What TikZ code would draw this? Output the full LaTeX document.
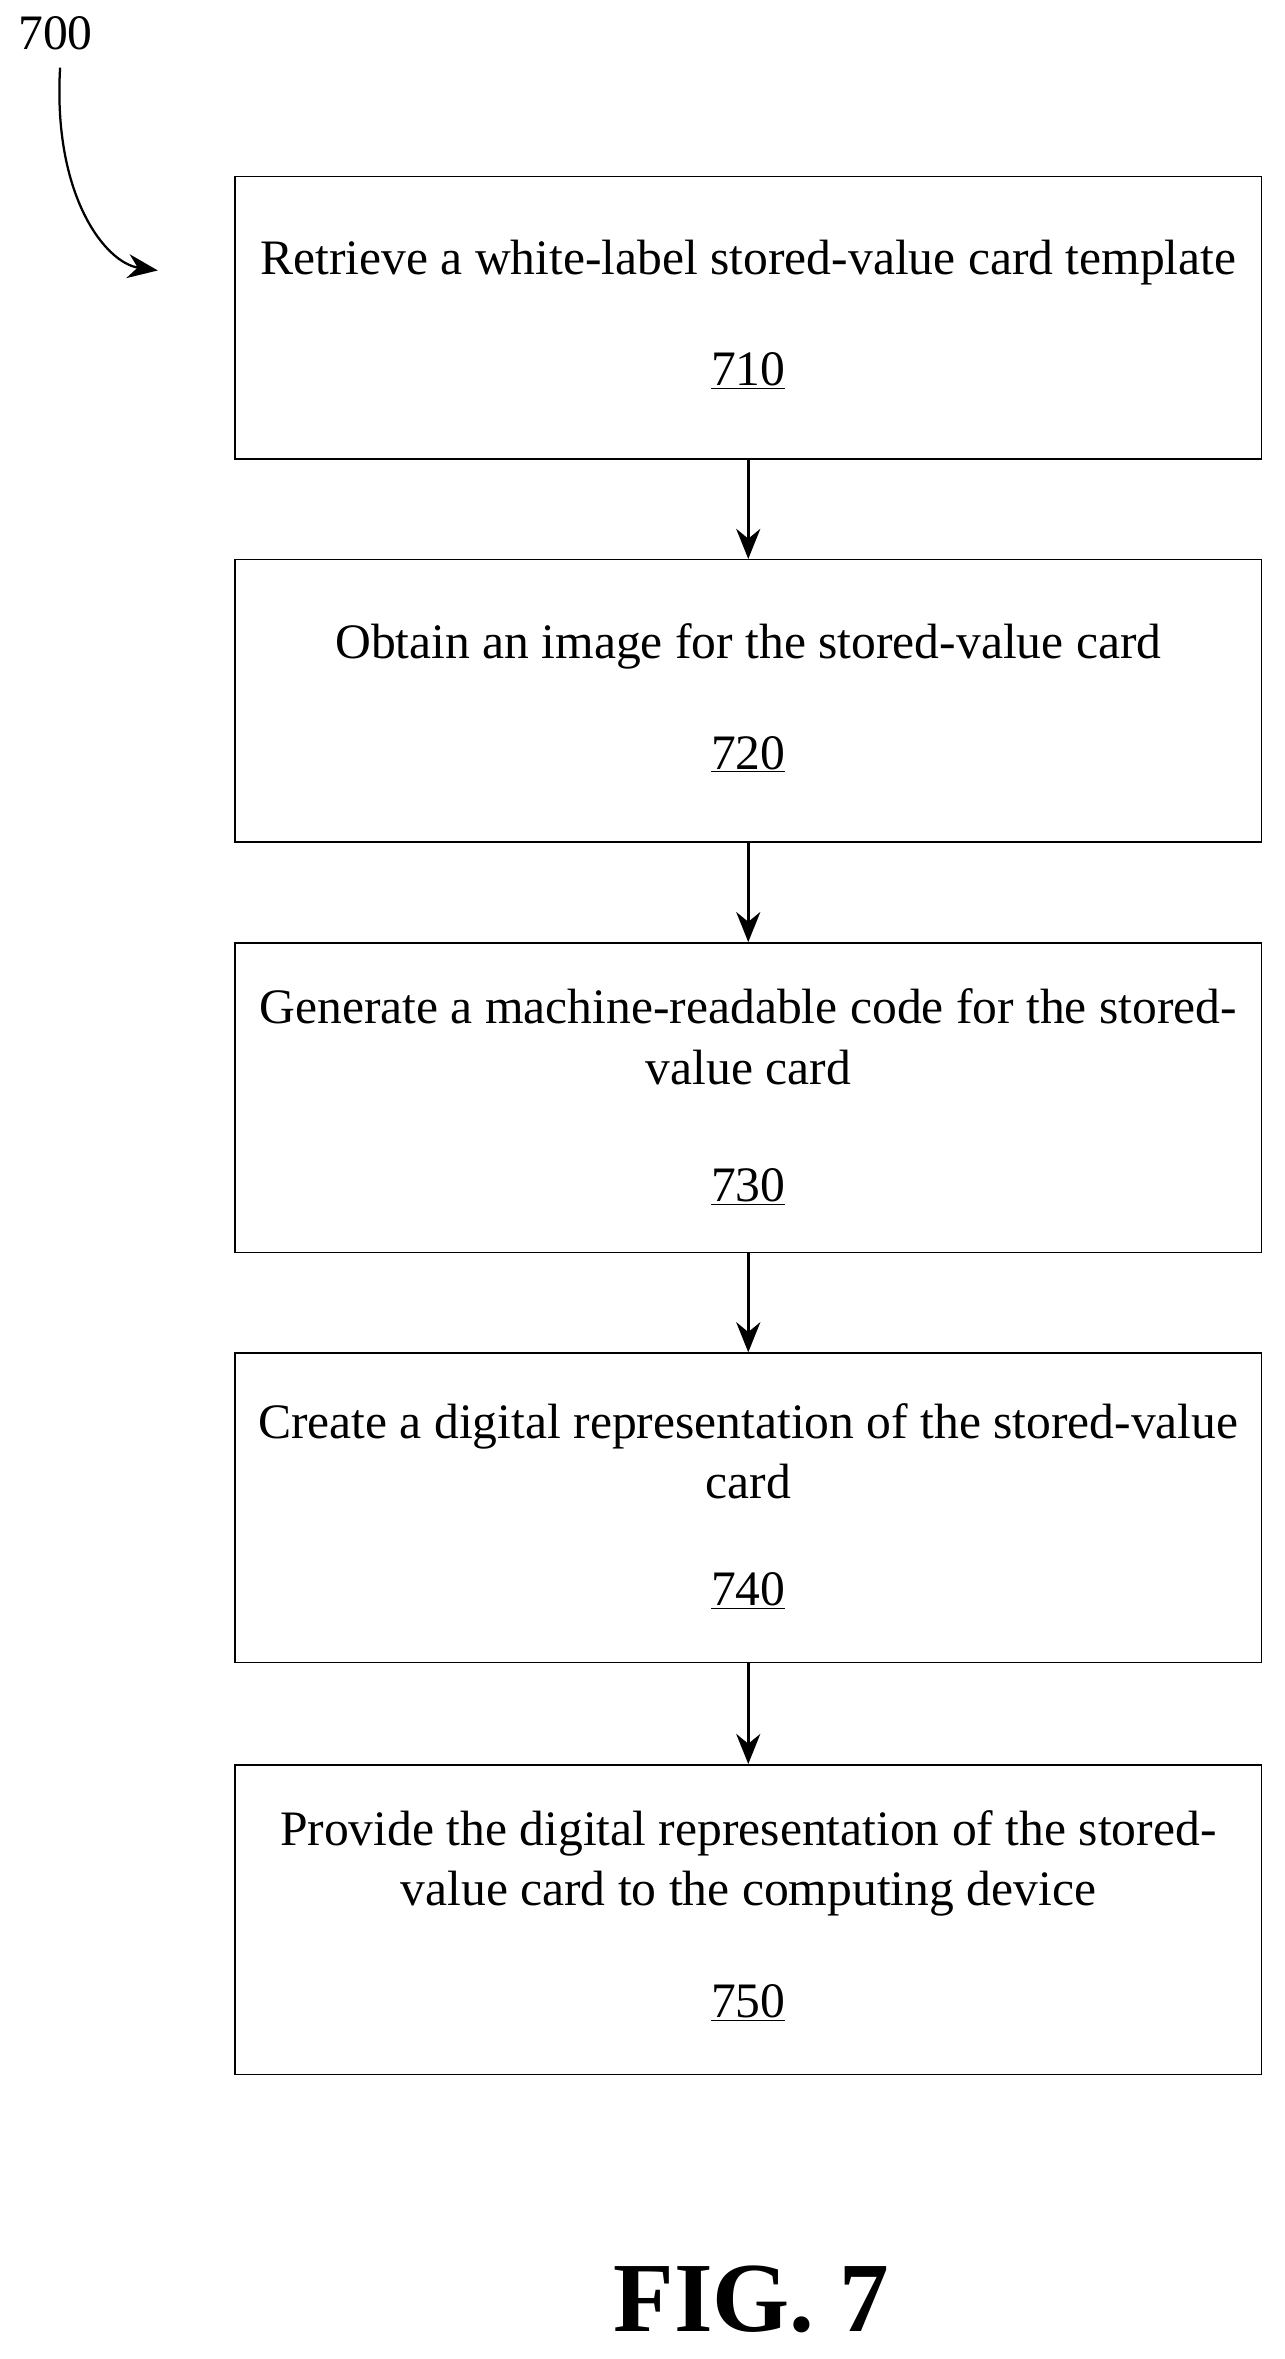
\documentclass[tikz,border=0pt]{standalone}
\usepackage{fontspec}
\setmainfont{Liberation Serif}
\usetikzlibrary{arrows.meta}
\begin{document}
\begin{tikzpicture}[x=1pt,y=-1pt,
  box/.style={draw,line width=1pt,minimum width=683pt,anchor=north west,inner sep=0pt},
  txt/.style={font=\fontsize{33}{40}\selectfont,align=center},
  arr/.style={-{Stealth[length=20pt,width=16pt]},line width=2pt}]
\useasboundingbox (0,0) rectangle (855,1570);
\node[box,minimum height=188pt] (b1) at (156,117) {};
\node[box,minimum height=188pt] (b2) at (156,372) {};
\node[box,minimum height=206pt] (b3) at (156,627) {};
\node[box,minimum height=206pt] (b4) at (156,900) {};
\node[box,minimum height=206pt] (b5) at (156,1174) {};
\node[txt] (t1) at (498,175) {Retrieve a white-label stored-value card template};
\node[txt] (n1) at (498,247) {\underline{710}};
\node[txt] (t2) at (498,430) {Obtain an image for the stored-value card};
\node[txt] (n2) at (498,502) {\underline{720}};
\node[txt] (t3) at (498,690) {Generate a machine-readable code for the stored-\\value card};
\node[txt] (n3) at (498,790) {\underline{730}};
\node[txt] (t4) at (498,966) {Create a digital representation of the stored-value\\card};
\node[txt] (n4) at (498,1059) {\underline{740}};
\node[txt] (t5) at (498,1240) {Provide the digital representation of the stored-\\value card to the computing device};
\node[txt] (n5) at (498,1333) {\underline{750}};
\draw[arr] (b1.south) -- (b2.north);
\draw[arr] (b2.south) -- (b3.north);
\draw[arr] (b3.south) -- (b4.north);
\draw[arr] (b4.south) -- (b5.north);
\node[txt] (lbl) at (37,22) {700};
\coordinate (c) at (105,180);
\draw[arr,line width=1.5pt] (40,45) .. controls (35,130) and (70,175) .. (c);
\node[font=\fontsize{66}{70}\selectfont\bfseries] (fig) at (500,1530) {FIG. 7};
\end{tikzpicture}
\end{document}
